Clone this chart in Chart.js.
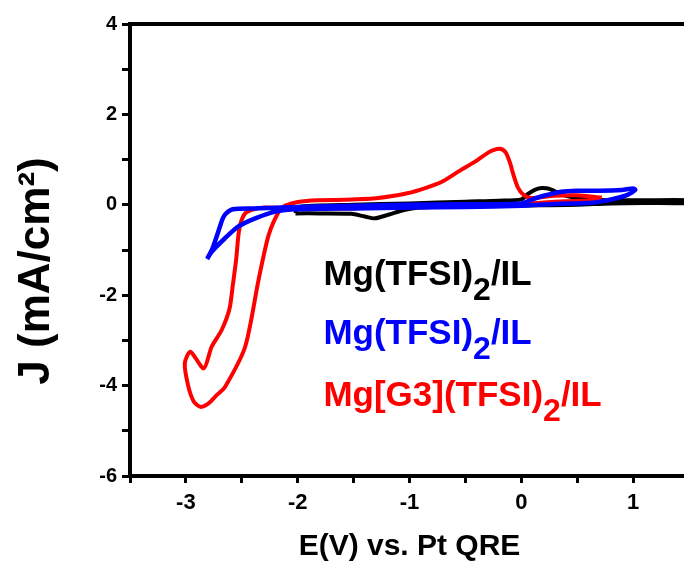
<!DOCTYPE html>
<html>
<head>
<meta charset="utf-8">
<script src="https://cdn.jsdelivr.net/npm/chart.js@4.4.0/dist/chart.umd.min.js"></script>
<style>
  html, body { margin: 0; padding: 0; background: #fff; overflow: hidden; }
  #wrap { width: 684px; height: 565px; overflow: hidden; }
</style>
</head>
<body>
<div id="wrap"><canvas id="chart" width="700" height="565"></canvas></div>
<script>
// CV traces, potential E (V vs. Pt QRE) and current density J (mA/cm2)
const blackE = [-2.02, -2.0, -1.5, -1.0, -0.5, -0.2, 0.0, 0.06, 0.12, 0.18, 0.24, 0.3, 0.4, 0.55, 0.8, 1.1, 1.5,
                1.5, 1.1, 0.8, 0.5, 0.2, -0.2, -0.5, -0.8, -0.92, -1.04, -1.19, -1.31, -1.4, -1.52, -1.8, -2.02];
const blackJ = [-0.19, -0.05, 0.0, 0.03, 0.07, 0.09, 0.12, 0.24, 0.33, 0.37, 0.36, 0.3, 0.2, 0.13, 0.1, 0.1, 0.1,
                0.04, 0.04, 0.03, 0.0, -0.01, -0.02, -0.03, -0.05, -0.06, -0.11, -0.22, -0.3, -0.26, -0.2, -0.19, -0.19];

const blueE = [-2.81, -2.76, -2.71, -2.67, -2.64, -2.58, -2.4, -2.0, -1.5, -1.0, -0.5, 0.0, 0.1, 0.2, 0.36, 0.5, 0.7, 0.9, 1.0, 1.02,
               0.95, 0.84, 0.7, 0.6, 0.3, 0.0, -0.5, -1.0, -1.5, -2.0, -2.2, -2.38, -2.53, -2.65, -2.77, -2.81];
const blueJ = [-1.2, -0.95, -0.59, -0.3, -0.19, -0.1, -0.08, -0.05, -0.02, 0.0, 0.01, 0.03, 0.12, 0.2, 0.29, 0.31, 0.31, 0.33, 0.36, 0.33,
               0.22, 0.14, 0.07, 0.04, 0.02, -0.02, -0.05, -0.06, -0.08, -0.1, -0.15, -0.3, -0.48, -0.74, -1.04, -1.2];

const redE = [0.72, 0.6, 0.4, 0.2, 0.0, -0.5, -1.0, -1.5, -2.0, -2.3, -2.41, -2.47, -2.51, -2.53, -2.55, -2.58, -2.61, -2.68, -2.77, -2.84,
              -2.96, -3.01, -2.98, -2.93, -2.87, -2.8, -2.72, -2.65, -2.47, -2.35, -2.26, -2.16, -2.11,
              -2.0, -1.82, -1.58, -1.28, -1.01, -0.86, -0.71, -0.56, -0.41, -0.3, -0.25, -0.19, -0.14, -0.1, -0.07, -0.03, 0.02, 0.09, 0.3, 0.5, 0.72];
const redJ = [0.16, 0.1, 0.08, 0.05, 0.02, 0.0, -0.01, -0.08, -0.08, -0.06, -0.11, -0.19, -0.4, -0.67, -1.2, -1.77, -2.3, -2.77, -3.14, -3.62,
              -3.25, -3.51, -4.0, -4.35, -4.47, -4.4, -4.2, -4.03, -3.14, -1.66, -0.67, -0.11, -0.02,
              0.06, 0.1, 0.11, 0.15, 0.26, 0.37, 0.51, 0.74, 0.96, 1.15, 1.21, 1.24, 1.16, 0.92, 0.66, 0.38, 0.22, 0.15, 0.2, 0.21, 0.16];

const xTicks = [-3, -2, -1, 0, 1];
const yTicks = [-6, -4, -2, 0, 2, 4];

// legend labels split as [text, subscript, text]
const legendParts = [
  ['Mg(TFSI)', '2', '/IL'],
  ['Mg(TFSI)', '2', '/IL'],
  ['Mg[G3](TFSI)', '2', '/IL'],
];
const legendColors = ['#000000', '#0000ff', '#ff0000'];

const toPoints = (xs, ys) => xs.map((x, i) => ({ x: x, y: ys[i] }));

const FONT = '"Liberation Sans", Arial, sans-serif';

// frame, y title and the in-plot legend
const extrasPlugin = {
  id: 'extras',
  afterDraw(chart) {
    const ctx = chart.ctx;
    const area = chart.chartArea;
    const xs = chart.scales.x;
    const ys = chart.scales.y;
    ctx.save();

    ctx.strokeStyle = '#000';
    ctx.lineWidth = 4;
    ctx.strokeRect(area.left, area.top, area.right - area.left, area.bottom - area.top);

    // y axis title
    ctx.save();
    ctx.translate(area.left - 93, (area.top + area.bottom) / 2 + 21);
    ctx.rotate(-Math.PI / 2);
    ctx.fillStyle = '#000';
    ctx.font = 'bold 44px ' + FONT;
    ctx.textAlign = 'center';
    ctx.textBaseline = 'middle';
    ctx.fillText('J (mA/cm\u00B2)', 0, 0);
    ctx.restore();

    // legend text, placed in data units
    const legendY = [-1.77, -3.08, -4.45];
    ctx.textBaseline = 'alphabetic';
    ctx.textAlign = 'left';
    legendParts.forEach((parts, i) => {
      let px = xs.getPixelForValue(-1.77);
      const py = ys.getPixelForValue(legendY[i]);
      ctx.fillStyle = legendColors[i];
      ctx.font = 'bold 35px ' + FONT;
      ctx.fillText(parts[0], px, py);
      px += ctx.measureText(parts[0]).width;
      ctx.font = 'bold 32px ' + FONT;
      ctx.fillText(parts[1], px, py + 15);
      px += ctx.measureText(parts[1]).width;
      ctx.font = 'bold 35px ' + FONT;
      ctx.fillText(parts[2], px, py);
    });
    ctx.restore();
  }
};

const lineStyle = { showLine: true, pointRadius: 0, borderWidth: 4, tension: 0.25, fill: false };

const chart = new Chart(document.getElementById('chart'), {
  type: 'scatter',
  data: {
    datasets: [
      { ...lineStyle, label: 'Mg(TFSI)2/IL', data: toPoints(blueE, blueJ), borderColor: '#0000ff', order: 0, borderWidth: 4.5 },
      { ...lineStyle, label: 'Mg[G3](TFSI)2/IL', data: toPoints(redE, redJ), borderColor: '#ff0000', order: 1 },
      { ...lineStyle, label: 'Mg(TFSI)2/IL', data: toPoints(blackE, blackJ), borderColor: '#000000', order: 2 },
    ],
  },
  options: {
    responsive: false,
    animation: false,
    layout: { padding: { top: 24, right: 11, left: 0, bottom: 0 } },
    plugins: { legend: { display: false }, tooltip: { enabled: false } },
    scales: {
      x: {
        type: 'linear',
        min: -3.5,
        max: 1.5,
        afterFit: (s) => { s.height = 89; },
        border: { display: true, color: '#000', width: 4 },
        grid: { drawOnChartArea: false, drawTicks: true, tickLength: 7, tickWidth: 3, tickColor: '#000' },
        ticks: {
          stepSize: 0.5,
          padding: 7,
          color: '#000',
          font: { family: FONT, size: 22, weight: 'bold' },
          callback: (v) => xTicks.includes(v) ? String(v) : '',
        },
        title: {
          display: true,
          text: 'E(V) vs. Pt QRE',
          color: '#000',
          font: { family: FONT, size: 30, weight: 'bold', lineHeight: 1.2 },
          padding: { top: 0, bottom: 0 },
        },
      },
      y: {
        type: 'linear',
        min: -6,
        max: 4,
        afterFit: (s) => { s.width = 130; },
        border: { display: true, color: '#000', width: 4 },
        grid: { drawOnChartArea: false, drawTicks: true, tickLength: 8, tickWidth: 3, tickColor: '#000' },
        ticks: {
          stepSize: 1,
          padding: 5,
          color: '#000',
          font: { family: FONT, size: 20, weight: 'bold' },
          callback: (v) => yTicks.includes(v) ? String(v) : '',
        },
      },
    },
  },
  plugins: [extrasPlugin],
});
</script>
</body>
</html>
